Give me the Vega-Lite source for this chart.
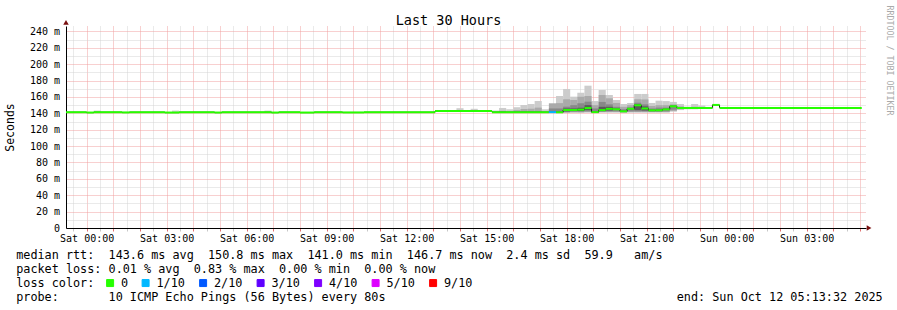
{
"$schema": "https://vega.github.io/schema/vega-lite/v6.json",
"width": 800, "height": 202,
"autosize": {"type": "none"},
"padding": {"left": 66, "top": 26, "right": 31, "bottom": 82},
"background": "#ffffff",
"config": {"view": {"stroke": null}, "font": "DejaVu Sans Mono"},
"datasets": {
"med": [
{"t0":-48,"t1":0,"med":141.4,"loss":"0"},
{"t0":0,"t1":16,"med":141.0,"loss":"0"},
{"t0":16,"t1":80,"med":141.4,"loss":"0"},
{"t0":80,"t1":96,"med":141.1,"loss":"0"},
{"t0":96,"t1":176,"med":141.4,"loss":"0"},
{"t0":176,"t1":208,"med":141.0,"loss":"0"},
{"t0":208,"t1":288,"med":141.4,"loss":"0"},
{"t0":288,"t1":304,"med":141.0,"loss":"0"},
{"t0":304,"t1":416,"med":141.4,"loss":"0"},
{"t0":416,"t1":432,"med":141.0,"loss":"0"},
{"t0":432,"t1":480,"med":141.4,"loss":"0"},
{"t0":480,"t1":512,"med":141.0,"loss":"0"},
{"t0":512,"t1":576,"med":141.4,"loss":"0"},
{"t0":576,"t1":624,"med":141.1,"loss":"0"},
{"t0":624,"t1":784,"med":141.4,"loss":"0"},
{"t0":784,"t1":912,"med":142.9,"loss":"0"},
{"t0":912,"t1":1040,"med":141.5,"loss":"0"},
{"t0":1040,"t1":1056,"med":141.5,"loss":"1/10"},
{"t0":1056,"t1":1072,"med":141.3,"loss":"0"},
{"t0":1072,"t1":1104,"med":144.1,"loss":"0"},
{"t0":1104,"t1":1120,"med":144.5,"loss":"0"},
{"t0":1120,"t1":1136,"med":146.5,"loss":"0"},
{"t0":1136,"t1":1152,"med":141.5,"loss":"0"},
{"t0":1152,"t1":1168,"med":144.0,"loss":"0"},
{"t0":1168,"t1":1184,"med":145.5,"loss":"0"},
{"t0":1184,"t1":1200,"med":145.0,"loss":"0"},
{"t0":1200,"t1":1216,"med":142.5,"loss":"0"},
{"t0":1216,"t1":1232,"med":145.6,"loss":"0"},
{"t0":1232,"t1":1248,"med":149.9,"loss":"0"},
{"t0":1248,"t1":1264,"med":146.0,"loss":"0"},
{"t0":1264,"t1":1280,"med":143.7,"loss":"0"},
{"t0":1280,"t1":1296,"med":143.8,"loss":"0"},
{"t0":1296,"t1":1312,"med":144.9,"loss":"0"},
{"t0":1312,"t1":1328,"med":148.6,"loss":"0"},
{"t0":1328,"t1":1408,"med":146.7,"loss":"0"},
{"t0":1408,"t1":1424,"med":150.3,"loss":"0"},
{"t0":1424,"t1":1744,"med":146.7,"loss":"0"}
],
"smoke": [
{"t0":16,"t1":32,"lo":141,"hi":143.4,"s":1},
{"t0":192,"t1":208,"lo":141,"hi":143.4,"s":1},
{"t0":400,"t1":416,"lo":141,"hi":143.4,"s":1},
{"t0":832,"t1":848,"lo":142.5,"hi":146.3,"s":1},
{"t0":864,"t1":880,"lo":142.5,"hi":145.6,"s":1},
{"t0":912,"t1":928,"lo":141,"hi":143.5,"s":1},
{"t0":928,"t1":944,"lo":141,"hi":146.6,"s":1},
{"t0":944,"t1":960,"lo":141,"hi":145,"s":1},
{"t0":960,"t1":976,"lo":141,"hi":147.5,"s":1},
{"t0":976,"t1":992,"lo":141,"hi":150.2,"s":1},
{"t0":992,"t1":1008,"lo":141,"hi":151.4,"s":1},
{"t0":1008,"t1":1024,"lo":141,"hi":155.1,"s":1},
{"t0":1024,"t1":1040,"lo":141,"hi":145,"s":1},
{"t0":1056,"t1":1072,"lo":141,"hi":161.2,"s":1},
{"t0":1072,"t1":1088,"lo":140.8,"hi":169.8,"s":1},
{"t0":1088,"t1":1104,"lo":141,"hi":160.4,"s":1},
{"t0":1104,"t1":1120,"lo":141,"hi":165.2,"s":1},
{"t0":1120,"t1":1136,"lo":141,"hi":173.8,"s":1},
{"t0":1136,"t1":1152,"lo":141,"hi":155,"s":1},
{"t0":1152,"t1":1168,"lo":141,"hi":168.5,"s":1},
{"t0":1168,"t1":1184,"lo":141,"hi":162.4,"s":1},
{"t0":1184,"t1":1200,"lo":141,"hi":156.3,"s":1},
{"t0":1200,"t1":1216,"lo":141,"hi":151.4,"s":1},
{"t0":1216,"t1":1232,"lo":141,"hi":152.7,"s":1},
{"t0":1232,"t1":1248,"lo":141,"hi":163.7,"s":1},
{"t0":1248,"t1":1264,"lo":141,"hi":163.7,"s":1},
{"t0":1264,"t1":1280,"lo":141,"hi":152.7,"s":1},
{"t0":1280,"t1":1296,"lo":141,"hi":155.5,"s":1},
{"t0":1296,"t1":1312,"lo":141,"hi":155,"s":1},
{"t0":1312,"t1":1328,"lo":142,"hi":154,"s":1},
{"t0":1328,"t1":1344,"lo":144,"hi":151.4,"s":1},
{"t0":1344,"t1":1360,"lo":145,"hi":148.2,"s":1},
{"t0":1360,"t1":1376,"lo":145,"hi":151.4,"s":1},
{"t0":1376,"t1":1392,"lo":145.5,"hi":149.5,"s":1},
{"t0":1392,"t1":1408,"lo":145.5,"hi":147.8,"s":1},
{"t0":928,"t1":944,"lo":141,"hi":143.2,"s":2},
{"t0":960,"t1":976,"lo":141,"hi":144,"s":2},
{"t0":976,"t1":992,"lo":141,"hi":145.3,"s":2},
{"t0":992,"t1":1008,"lo":141,"hi":145.7,"s":2},
{"t0":1008,"t1":1024,"lo":141,"hi":147,"s":2},
{"t0":1040,"t1":1056,"lo":141,"hi":152.3,"s":2},
{"t0":1056,"t1":1072,"lo":141,"hi":152.5,"s":2},
{"t0":1072,"t1":1088,"lo":141,"hi":157.2,"s":2},
{"t0":1088,"t1":1104,"lo":141.2,"hi":156.3,"s":2},
{"t0":1104,"t1":1120,"lo":141.2,"hi":160.4,"s":2},
{"t0":1120,"t1":1136,"lo":141.5,"hi":161.2,"s":2},
{"t0":1136,"t1":1152,"lo":141,"hi":150,"s":2},
{"t0":1152,"t1":1168,"lo":141.5,"hi":162.4,"s":2},
{"t0":1168,"t1":1184,"lo":141.5,"hi":158.4,"s":2},
{"t0":1184,"t1":1200,"lo":141.5,"hi":152.7,"s":2},
{"t0":1200,"t1":1216,"lo":141,"hi":148,"s":2},
{"t0":1216,"t1":1232,"lo":141.5,"hi":150,"s":2},
{"t0":1232,"t1":1248,"lo":141.5,"hi":157.2,"s":2},
{"t0":1248,"t1":1264,"lo":141.5,"hi":157,"s":2},
{"t0":1264,"t1":1280,"lo":141.5,"hi":149,"s":2},
{"t0":1280,"t1":1296,"lo":141.5,"hi":150,"s":2},
{"t0":1296,"t1":1312,"lo":141.5,"hi":150,"s":2},
{"t0":1312,"t1":1328,"lo":143,"hi":151,"s":2},
{"t0":1328,"t1":1344,"lo":145,"hi":148.5,"s":2},
{"t0":1360,"t1":1376,"lo":145.5,"hi":148,"s":2},
{"t0":1040,"t1":1056,"lo":141,"hi":146,"s":3},
{"t0":1056,"t1":1072,"lo":141,"hi":146,"s":3},
{"t0":1072,"t1":1088,"lo":141.5,"hi":148.2,"s":3},
{"t0":1088,"t1":1104,"lo":142,"hi":150,"s":3},
{"t0":1104,"t1":1120,"lo":142,"hi":152.3,"s":3},
{"t0":1120,"t1":1136,"lo":142.5,"hi":154.3,"s":3},
{"t0":1136,"t1":1152,"lo":141,"hi":146,"s":3},
{"t0":1152,"t1":1168,"lo":142,"hi":154,"s":3},
{"t0":1168,"t1":1184,"lo":142.5,"hi":151,"s":3},
{"t0":1184,"t1":1200,"lo":142.5,"hi":148,"s":3},
{"t0":1200,"t1":1216,"lo":141.5,"hi":145,"s":3},
{"t0":1216,"t1":1232,"lo":142.5,"hi":147.5,"s":3},
{"t0":1232,"t1":1248,"lo":142.5,"hi":153,"s":3},
{"t0":1248,"t1":1264,"lo":142.5,"hi":151,"s":3},
{"t0":1264,"t1":1280,"lo":142,"hi":146,"s":3},
{"t0":1280,"t1":1296,"lo":142,"hi":147,"s":3},
{"t0":1296,"t1":1312,"lo":142.5,"hi":147,"s":3},
{"t0":1312,"t1":1328,"lo":144.5,"hi":149.5,"s":3},
{"t0":1072,"t1":1088,"lo":142.5,"hi":146,"s":4},
{"t0":1088,"t1":1104,"lo":143,"hi":146,"s":4},
{"t0":1104,"t1":1120,"lo":143,"hi":147,"s":4},
{"t0":1120,"t1":1136,"lo":144,"hi":150,"s":4},
{"t0":1152,"t1":1168,"lo":143,"hi":148,"s":4},
{"t0":1168,"t1":1184,"lo":143.5,"hi":148,"s":4},
{"t0":1232,"t1":1248,"lo":144,"hi":151,"s":4},
{"t0":1248,"t1":1264,"lo":143.5,"hi":148.5,"s":4}
],
"arrows": [
{"ax":-46.467,"ay":251,"sh":"triangle-up"},
{"ax":1760.4,"ay":0,"sh":"triangle-right"}
]
},
"resolve": {"axis": {"x": "independent", "y": "independent"}},
"layer": [
{
"data": {"name": "smoke"},
"mark": {"type": "rect", "clip": true},
"encoding": {
"x": {"field": "t0", "type": "quantitative",
"scale": {"domain": [-46.467, 1753.533], "nice": false, "zero": false},
"axis": {
"orient": "bottom",
"values": [-30,0,30,60,90,120,150,180,210,240,270,300,330,360,390,420,450,480,510,540,570,600,630,660,690,720,750,780,810,840,870,900,930,960,990,1020,1050,1080,1110,1140,1170,1200,1230,1260,1290,1320,1350,1380,1410,1440,1470,1500,1530,1560,1590,1620,1650,1680,1710,1740],
"labelExpr": "datum.value % 180 === 0 ? timeFormat(datetime(2025, 9, 11, 0, datum.value), '%a %H:%M') : ''",
"labelOverlap": false, "labelFlush": false, "labelAngle": 0,
"labelFont": "DejaVu Sans Mono", "labelFontSize": 10, "labelColor": "#000000", "labelPadding": 2,
"ticks": true, "tickSize": 3,
"tickColor": {"condition": {"test": "datum.value % 60 === 0", "value": "#e07070"}, "value": "#c8c8c8"},
"domain": true, "domainColor": "#000000", "domainWidth": 1,
"grid": true, "gridDash": [1, 1], "gridWidth": 1,
"gridColor": {"condition": {"test": "datum.value % 60 === 0", "value": "#f0a0a0"}, "value": "#d4d4d4"},
"title": [
"median\u00a0rtt:\u00a0\u00a0143.6\u00a0ms\u00a0avg\u00a0\u00a0150.8\u00a0ms\u00a0max\u00a0\u00a0141.0\u00a0ms\u00a0min\u00a0\u00a0146.7\u00a0ms\u00a0now\u00a0\u00a02.4\u00a0ms\u00a0sd\u00a0\u00a059.9\u00a0\u00a0\u00a0am/s",
"packet\u00a0loss:\u00a00.01\u00a0%\u00a0avg\u00a0\u00a00.83\u00a0%\u00a0max\u00a0\u00a00.00\u00a0%\u00a0min\u00a0\u00a00.00\u00a0%\u00a0now",
"loss\u00a0color:",
"probe:\u00a0\u00a0\u00a0\u00a0\u00a0\u00a0\u00a010\u00a0ICMP\u00a0Echo\u00a0Pings\u00a0(56\u00a0Bytes)\u00a0every\u00a080s\u00a0\u00a0\u00a0\u00a0\u00a0\u00a0\u00a0\u00a0\u00a0\u00a0\u00a0\u00a0\u00a0\u00a0\u00a0\u00a0\u00a0\u00a0\u00a0\u00a0\u00a0\u00a0\u00a0\u00a0\u00a0\u00a0\u00a0\u00a0\u00a0\u00a0\u00a0\u00a0\u00a0\u00a0\u00a0\u00a0\u00a0\u00a0\u00a0\u00a0\u00a0end:\u00a0Sun\u00a0Oct\u00a012\u00a005:13:32\u00a02025"
],
"titleFont": "DejaVu Sans Mono", "titleFontSize": 11.8, "titleFontWeight": "normal", "titleColor": "#000000",
"titleX": -50.3, "titleY": 30, "titleAlign": "left", "titleAnchor": "start", "titleBaseline": "alphabetic", "titleLineHeight": 14
}
},
"x2": {"field": "t1"},
"y": {"field": "lo", "type": "quantitative",
"scale": {"domain": [0, 246.7], "nice": false, "zero": true},
"axis": {
"orient": "left",
"values": [0,10,20,30,40,50,60,70,80,90,100,110,120,130,140,150,160,170,180,190,200,210,220,230,240],
"labelExpr": "datum.value % 20 === 0 ? (datum.value === 0 ? '0\u00a0\u00a0' : datum.value + ' m') : ''",
"labelOverlap": false, "labelFlush": false,
"labelFont": "DejaVu Sans Mono", "labelFontSize": 10, "labelColor": "#000000", "labelPadding": 6.5, "labelBaseline": "middle",
"ticks": false, "tickSize": 0,
"domain": true, "domainColor": "#000000", "domainWidth": 1,
"grid": true, "gridDash": [1, 1], "gridWidth": 1,
"gridColor": {"condition": {"test": "datum.value % 20 === 0", "value": "#f0a0a0"}, "value": "#d4d4d4"},
"title": "Seconds",
"titleFont": "DejaVu Sans Mono", "titleFontSize": 11.5, "titleFontWeight": "normal", "titleColor": "#000000",
"titleAngle": 270, "titleX": -55.2, "titleY": 101, "titleAlign": "center", "titleBaseline": "middle"
}
},
"y2": {"field": "hi"},
"fill": {"field": "s", "type": "ordinal",
"scale": {"domain": [1, 2, 3, 4], "range": ["#cccccc", "#aaaaaa", "#888888", "#5a5a5a"]},
"legend": null}
}
},
{
"data": {"name": "med"},
"mark": {"type": "line", "interpolate": "step-after", "color": "#1a1a1a", "strokeWidth": 1, "clip": true},
"encoding": {
"x": {"field": "t0", "type": "quantitative", "scale": {"domain": [-46.467, 1753.533], "nice": false, "zero": false}, "axis": null},
"y": {"field": "med", "type": "quantitative", "scale": {"domain": [0, 246.7], "nice": false, "zero": true}, "axis": null}
}
},
{
"data": {"name": "med"},
"mark": {"type": "rule", "strokeWidth": 2, "strokeCap": "butt", "clip": true},
"encoding": {
"x": {"field": "t0", "type": "quantitative", "scale": {"domain": [-46.467, 1753.533], "nice": false, "zero": false}, "axis": null},
"x2": {"field": "t1"},
"y": {"field": "med", "type": "quantitative", "scale": {"domain": [0, 246.7], "nice": false, "zero": true}, "axis": null},
"color": {"field": "loss", "type": "nominal",
"scale": {"domain": ["0", "1/10", "2/10", "3/10", "4/10", "5/10", "9/10"],
"range": ["#26ff00", "#00b8ff", "#0059ff", "#5e00ff", "#7e00ff", "#dd00ff", "#ff0000"]},
"legend": {
"orient": "none", "legendX": 38.2, "legendY": 251,
"direction": "horizontal", "columns": 7,
"title": null,
"labelFont": "DejaVu Sans Mono", "labelFontSize": 11.8, "labelColor": "#000000", "labelOffset": 5,
"symbolType": "square", "symbolSize": 49, "symbolStrokeWidth": 1, "symbolStrokeColor": "#000000",
"columnPadding": 11.5, "rowPadding": 0, "padding": 0,
"encode": {"symbols": {"update": {"fill": {"scale": "color", "field": "value"}, "fillOpacity": {"value": 1}, "opacity": {"value": 1}, "stroke": {"value": "#000000"}, "strokeWidth": {"value": 1}}}}
}
}
}
},
{
"data": {"name": "arrows"},
"mark": {"type": "point", "filled": true, "color": "#7a1010", "size": 30, "opacity": 1},
"encoding": {
"x": {"field": "ax", "type": "quantitative", "scale": {"domain": [-46.467, 1753.533], "nice": false, "zero": false},
"axis": {"orient": "top", "labels": false, "ticks": false, "domain": false, "grid": false,
"title": "Last 30 Hours", "titleFont": "DejaVu Sans Mono", "titleFontSize": 13.5, "titleFontWeight": "normal", "titleColor": "#000000",
"titleX": 382, "titleY": -2, "titleAlign": "center", "titleBaseline": "alphabetic"}},
"y": {"field": "ay", "type": "quantitative", "scale": {"domain": [0, 246.7], "nice": false, "zero": true},
"axis": {"orient": "right", "labels": false, "ticks": false, "domain": false, "grid": false,
"title": "RRDTOOL / TOBI OETIKER", "titleFont": "DejaVu Sans Mono", "titleFontSize": 8.3, "titleFontWeight": "normal", "titleColor": "#aaaaaa",
"titleAngle": 90, "titleX": 22, "titleY": -21, "titleAlign": "left", "titleBaseline": "middle"}},
"shape": {"field": "sh", "type": "nominal", "scale": null}
}
}
]
}
